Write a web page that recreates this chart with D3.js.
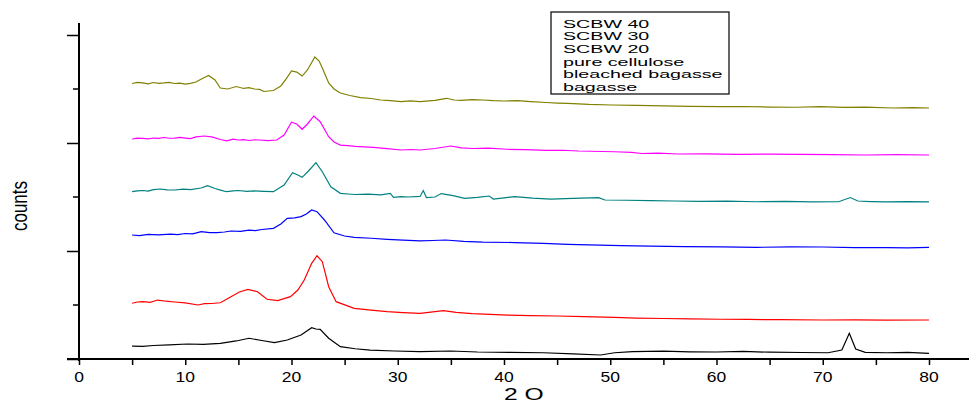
<!DOCTYPE html>
<html>
<head>
<meta charset="utf-8">
<script src="https://cdn.jsdelivr.net/npm/d3@7"></script>
<style>
  body { margin: 0; background: #fff; }
  text { font-family: "Liberation Sans", Arial, sans-serif; fill: #000; }
</style>
</head>
<body>
<svg id="chart" width="972" height="405"></svg>
<script>
// series: [2 theta, counts]
var scbw40 = [[5,2551],[5.5,2562],[6,2556],[6.5,2548],[7,2560],[7.5,2553],[8,2556],[8.5,2562],[9,2551],[9.5,2555],[10,2546],[10.5,2552],[11,2565],[11.7,2602],[12.2,2625],[12.8,2583],[13.3,2509],[14,2500],[14.8,2523],[15.5,2505],[16,2512],[16.5,2500],[17,2496],[17.4,2477],[18.3,2486],[19,2528],[19.5,2593],[20,2667],[20.5,2657],[21,2620],[21.5,2676],[22.2,2796],[22.6,2759],[22.9,2694],[23.5,2556],[24,2500],[24.6,2463],[25.5,2440],[26.5,2421],[27.5,2412],[28.4,2398],[29.3,2392],[30.3,2384],[31.2,2390],[32.1,2384],[33.5,2394],[34.6,2414],[35.3,2398],[36,2394],[37,2402],[38,2398],[39,2392],[40,2389],[41.3,2392],[42.5,2383],[44,2375],[45,2370],[46,2366],[47,2362],[48,2357],[50.1,2352],[52.5,2349],[55,2343],[57.5,2340],[60.4,2336],[62.5,2338],[65,2333],[67.5,2331],[69.8,2336],[72,2329],[74,2332],[76.6,2324],[78.5,2327],[80,2324]];
var scbw30 = [[5,2037],[5.5,2045],[6,2042],[6.5,2038],[7,2046],[7.5,2042],[8,2051],[8.5,2044],[9,2046],[9.5,2052],[10,2046],[10.5,2040],[11,2056],[11.8,2065],[12.5,2056],[13.3,2032],[13.9,2019],[14.5,2035],[15,2028],[15.5,2032],[16,2023],[16.5,2030],[17,2028],[17.8,2022],[18.6,2028],[19.3,2074],[20,2192],[20.5,2176],[21,2127],[21.5,2176],[22.1,2250],[22.7,2197],[23.5,2058],[24,2009],[24.6,1981],[25.3,1975],[26,1968],[27.7,1960],[29,1948],[30.3,1935],[31.2,1940],[32.1,1935],[33.5,1949],[35,1972],[36,1955],[37,1949],[38.5,1952],[40.3,1942],[42,1938],[44,1931],[45.5,1933],[47,1926],[50.4,1919],[52,1914],[53,1903],[54.5,1906],[56.4,1898],[59,1900],[62,1894],[65,1897],[68,1894],[71,1893],[74,1889],[77,1892],[80,1889]];
var scbw20 = [[5,1549],[5.5,1556],[6,1560],[6.5,1555],[7,1569],[7.7,1574],[8.3,1566],[9,1565],[9.8,1572],[10.5,1569],[11.5,1583],[12.1,1605],[12.8,1579],[13.4,1562],[13.9,1549],[14.5,1556],[15,1560],[15.8,1552],[16.5,1556],[17.4,1552],[18.3,1549],[19.3,1611],[20.1,1725],[20.6,1704],[21,1682],[21.6,1741],[22.3,1818],[22.9,1734],[23.7,1595],[24.6,1534],[25.3,1528],[26,1523],[27.2,1526],[28.4,1519],[29.3,1534],[29.6,1497],[30.3,1503],[31,1500],[32.1,1505],[32.4,1560],[32.7,1495],[33.5,1500],[34.1,1532],[35.2,1512],[36.3,1488],[37.5,1496],[38.6,1509],[39,1481],[40,1492],[41,1503],[42.7,1490],[44.4,1481],[46.5,1488],[48.9,1494],[49.5,1472],[51.5,1470],[53.8,1466],[56,1463],[58.5,1460],[61,1462],[63.8,1456],[66.5,1459],[69,1455],[71.5,1456],[72.6,1495],[73.3,1463],[74.5,1458],[76,1454],[78,1457],[80,1454]];
var pureCellulose = [[5,1148],[5.7,1142],[6.5,1153],[7.5,1150],[8.6,1157],[9.3,1151],[10,1162],[10.7,1158],[11.5,1179],[12.3,1170],[13,1171],[13.7,1176],[14.3,1185],[15.2,1182],[16,1194],[16.6,1188],[17.2,1199],[18.3,1210],[19,1250],[19.6,1303],[20.3,1306],[20.9,1318],[21.4,1343],[21.9,1380],[22.4,1364],[23.1,1287],[24,1169],[25,1139],[25.9,1127],[27.5,1118],[29,1108],[30.5,1100],[32.1,1093],[33.3,1097],[34.5,1102],[36.2,1090],[38,1083],[41,1078],[43.7,1071],[46,1062],[48,1056],[51,1050],[53.8,1046],[57,1041],[60.5,1038],[63.8,1034],[67,1038],[70,1037],[73,1031],[76,1032],[78,1029],[80,1034]];
var bleachedBagasse = [[5,516],[5.5,528],[6,532],[6.7,525],[7.4,546],[8.2,535],[9,528],[10,520],[11.2,500],[11.8,512],[12.5,514],[13.3,521],[14.3,577],[15.1,620],[15.9,645],[16.8,623],[17.7,553],[18.7,540],[19.9,577],[20.6,639],[21.2,731],[21.9,886],[22.4,956],[22.9,901],[23.5,669],[24.2,531],[25.9,469],[27.5,452],[29,438],[30.5,430],[32.1,423],[34.3,447],[35.5,432],[37,421],[38.7,414],[40.3,407],[42.5,402],[45,398],[47.5,392],[50.4,386],[52.5,379],[55,375],[57.5,372],[60.4,368],[63,366],[66,364],[70,361],[73,363],[76,360],[80,361]];
var bagasse = [[5,120],[6,117],[7,125],[8.5,130],[10.2,139],[11.7,136],[13.3,145],[14.8,167],[16,192],[17.2,171],[18.4,151],[19.6,176],[20.9,222],[21.9,290],[22.3,278],[22.7,275],[23.5,192],[24.6,114],[26,95],[27.4,83],[29.7,74],[32.1,68],[35,74],[37.5,65],[40.5,61],[43.7,58],[46.5,48],[49.1,37],[50.4,58],[52.1,68],[55,72],[57.5,66],[60,65],[62.5,70],[65,63],[68,60],[70.5,58],[71.8,83],[72.5,238],[73.1,93],[74,62],[76,58],[78,61],[80,53]];

var seriesNames = ["SCBW 40", "SCBW 30", "SCBW 20", "pure cellulose", "bleached bagasse", "bagasse"];
var seriesData = [scbw40, scbw30, scbw20, pureCellulose, bleachedBagasse, bagasse];
var seriesColors = ["#808000", "#ff00ff", "#008080", "#0000ff", "#ff0000", "#000000"];
var xTicks = [0, 10, 20, 30, 40, 50, 60, 70, 80];

var svg = d3.select("#chart");

var x = d3.scaleLinear().domain([0, 80]).range([79, 929]);
var y = d3.scaleLinear().domain([0, 3000]).range([359, 35]);

// lines
var line = d3.line()
  .x(function(d) { return x(d[0]); })
  .y(function(d) { return y(d[1]); });

svg.selectAll("path.series")
  .data(seriesData)
  .enter()
  .append("path")
  .attr("class", "series")
  .attr("d", line)
  .attr("fill", "none")
  .attr("stroke", function(d, i) { return seriesColors[i]; })
  .attr("stroke-width", 1.2);

// x axis
var xAxis = svg.append("g").attr("transform", "translate(0,359)");
xAxis.call(d3.axisBottom(x).tickValues(d3.range(0, 81, 5)).tickSize(6).tickFormat(""));
xAxis.select(".domain").remove();
xAxis.selectAll(".tick line").attr("stroke-width", 1.5);
xAxis.append("line")
  .attr("x1", 67).attr("x2", 969)
  .attr("stroke", "#000").attr("stroke-width", 2);

xAxis.selectAll("text.lbl")
  .data(xTicks)
  .enter()
  .append("text")
  .attr("class", "lbl")
  .attr("text-anchor", "middle")
  .attr("font-size", "14px")
  .attr("transform", function(d) { return "translate(" + x(d) + ",23) scale(1.25,1)"; })
  .text(function(d) { return d; });

// y axis, no labels
var yAxis = svg.append("g").attr("transform", "translate(79,0)");
yAxis.call(d3.axisLeft(y).tickValues([0, 1000, 2000, 3000]).tickSize(12).tickFormat(""));
yAxis.call(function(g) {
  g.select(".domain").remove();
});
yAxis.selectAll(".tick line").attr("stroke-width", 1.5);
yAxis.selectAll("line.minor")
  .data([500, 1500, 2500])
  .enter()
  .append("line")
  .attr("class", "minor")
  .attr("x1", -6).attr("x2", 0)
  .attr("y1", function(d) { return y(d); })
  .attr("y2", function(d) { return y(d); })
  .attr("stroke", "#000").attr("stroke-width", 1.5);
yAxis.append("line")
  .attr("y1", 23).attr("y2", 361)
  .attr("stroke", "#000").attr("stroke-width", 2);

// axis titles
svg.append("text")
  .attr("transform", "translate(504,400) scale(1.45,1)")
  .attr("font-size", "17px")
  .text("2 O");

svg.append("text")
  .attr("transform", "translate(27,206) rotate(-90) scale(1,1.35)")
  .attr("text-anchor", "middle")
  .attr("font-size", "17px")
  .text("counts");

// legend (text only)
var legend = svg.append("g");
legend.append("rect")
  .attr("x", 551).attr("y", 12)
  .attr("width", 178).attr("height", 82)
  .attr("fill", "#fff")
  .attr("stroke", "#000").attr("stroke-width", 1.2);
legend.selectAll("text")
  .data(seriesNames)
  .enter()
  .append("text")
  .attr("font-size", "11.5px")
  .attr("transform", function(d, i) { return "translate(563," + (27.5 + i * 12.7) + ") scale(1.71,1)"; })
  .text(function(d) { return d; });
</script>
</body>
</html>
